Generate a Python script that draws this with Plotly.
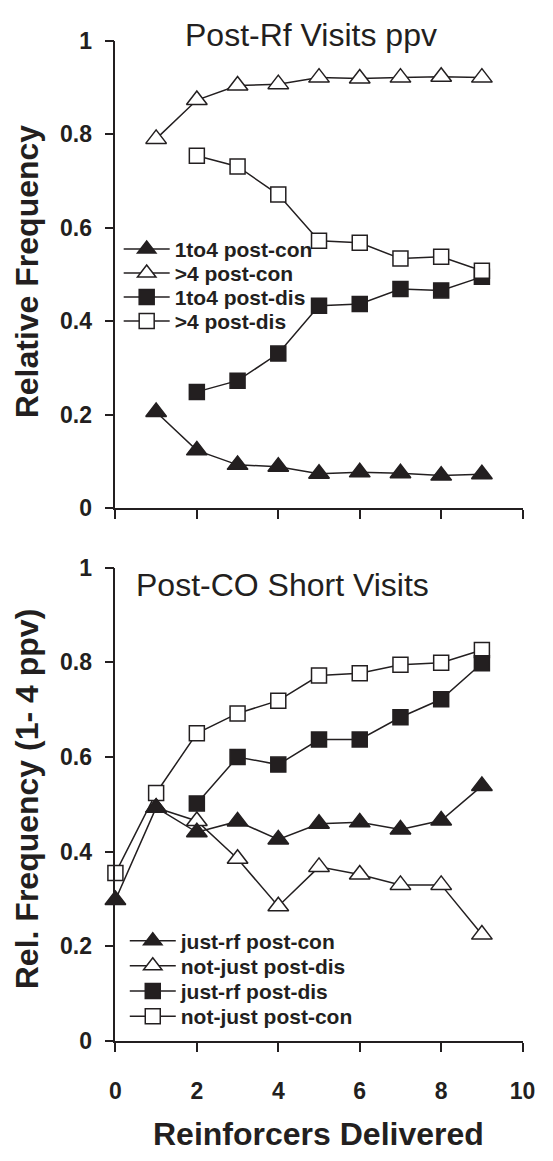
import plotly.graph_objects as go

# ---- data -------------------------------------------------------------
# Top panel: post-reinforcer visits (x = reinforcers delivered)
top_x_tri = [1, 2, 3, 4, 5, 6, 7, 8, 9]
top_1to4_postcon = [0.206, 0.124, 0.093, 0.089, 0.074, 0.077, 0.075, 0.070, 0.073]
top_gt4_postcon = [0.790, 0.873, 0.904, 0.907, 0.921, 0.919, 0.921, 0.923, 0.921]
top_x_sq = [2, 3, 4, 5, 6, 7, 8, 9]
top_1to4_postdis = [0.249, 0.273, 0.331, 0.433, 0.437, 0.469, 0.466, 0.495]
top_gt4_postdis = [0.754, 0.731, 0.671, 0.572, 0.568, 0.534, 0.538, 0.508]

# Bottom panel: post-changeover short visits
bot_x_full = [0, 1, 2, 3, 4, 5, 6, 7, 8, 9]
bot_justrf_postcon = [0.298, 0.493, 0.441, 0.464, 0.426, 0.459, 0.462, 0.447, 0.466, 0.539]
bot_x_notjust_dis = [1, 2, 3, 4, 5, 6, 7, 8, 9]
bot_notjust_postdis = [0.493, 0.465, 0.385, 0.285, 0.368, 0.352, 0.330, 0.330, 0.225]
bot_x_justrf_dis = [2, 3, 4, 5, 6, 7, 8, 9]
bot_justrf_postdis = [0.502, 0.600, 0.584, 0.637, 0.637, 0.684, 0.722, 0.798]
bot_notjust_postcon = [0.355, 0.524, 0.650, 0.692, 0.719, 0.772, 0.777, 0.795, 0.799, 0.826]

x_ticks = [0, 2, 4, 6, 8, 10]
y_ticks = [0, 0.2, 0.4, 0.6, 0.8, 1]

# ---- styling ----------------------------------------------------------
W, H = 553, 1161
INK = "#231f20"
FONT = "Liberation Sans, Arial, sans-serif"


def fx(p):
    return p / W


def fy(p):
    return 1 - p / H


fig = go.Figure()

# one single-entry legend per series so the entries can be spaced tightly
legend_layout = {}


def add_series(x, y, name, symbol, filled, size, xa, ya, legend_id, lx, ly):
    fig.add_trace(go.Scatter(
        x=x, y=y, mode="lines+markers", name=name,
        line=dict(color=INK, width=1.5),
        marker=dict(symbol=symbol, size=size,
                    color=INK if filled else "white",
                    line=dict(color=INK, width=1.5)),
        xaxis=xa, yaxis=ya, legend=legend_id,
        cliponaxis=False,
    ))
    legend_layout[legend_id] = dict(
        x=fx(lx), y=fy(ly), xanchor="left", yanchor="middle",
        bgcolor="rgba(0,0,0,0)", borderwidth=0, itemwidth=46,
        font=dict(family=FONT, size=21, color=INK, weight="bold"),
        itemclick=False, itemdoubleclick=False,
    )


TRI, SQ = 18, 15
TOP_LX, BOT_LX = 116.7, 123

# top panel
add_series(top_x_tri, top_1to4_postcon, "1to4 post-con", "triangle-up", True, TRI, "x", "y", "legend", TOP_LX, 241.7)
add_series(top_x_tri, top_gt4_postcon, "&gt;4 post-con", "triangle-up", False, TRI, "x", "y", "legend2", TOP_LX, 266.3)
add_series(top_x_sq, top_1to4_postdis, "1to4 post-dis", "square", True, SQ, "x", "y", "legend3", TOP_LX, 290.9)
add_series(top_x_sq, top_gt4_postdis, "&gt;4 post-dis", "square", False, SQ, "x", "y", "legend4", TOP_LX, 315.5)

# bottom panel (open symbols drawn first so filled ones sit on top)
add_series(bot_x_full, bot_notjust_postcon, "not-just post-con", "square", False, SQ, "x2", "y2", "legend8", BOT_LX, 1026.5)
add_series(bot_x_justrf_dis, bot_justrf_postdis, "just-rf post-dis", "square", True, SQ, "x2", "y2", "legend7", BOT_LX, 1000.8)
add_series(bot_x_notjust_dis, bot_notjust_postdis, "not-just post-dis", "triangle-up", False, TRI, "x2", "y2", "legend6", BOT_LX, 975.0)
add_series(bot_x_full, bot_justrf_postcon, "just-rf post-con", "triangle-up", True, TRI, "x2", "y2", "legend5", BOT_LX, 949.4)

x_dom = [fx(113.3), fx(535)]
axis_common = dict(
    showline=True, linecolor=INK, linewidth=1.5,
    ticks="outside", ticklen=9, tickwidth=1.5, tickcolor=INK,
    showgrid=False, zeroline=False,
    tickfont=dict(family=FONT, size=23, color=INK, weight="bold"),
)

fig.update_layout(
    width=W, height=H,
    margin=dict(l=0, r=0, t=0, b=0),
    paper_bgcolor="white", plot_bgcolor="white",
    font=dict(family=FONT, color=INK),
    xaxis=dict(domain=x_dom, range=[0, 10], anchor="y", tickvals=x_ticks,
               showticklabels=False, **axis_common),
    yaxis=dict(domain=[fy(506.7), fy(28.3)], range=[0, 1], anchor="x",
               tickvals=y_ticks, ticklabelstandoff=8, **axis_common),
    xaxis2=dict(domain=x_dom, range=[0, 10], anchor="y2", tickvals=x_ticks,
                ticklabelstandoff=20, **axis_common),
    yaxis2=dict(domain=[fy(1051.7), fy(567.3)], range=[0, 1], anchor="x2",
                tickvals=y_ticks, ticklabelstandoff=8, **axis_common),
    showlegend=True,
    **legend_layout,
)

annotations = [
    dict(text="Post-Rf Visits ppv", x=fx(315.8), y=fy(22.5), xanchor="center", yanchor="middle",
         font=dict(family=FONT, size=32, color=INK)),
    dict(text="Post-CO Short Visits", x=fx(133), y=fy(585), xanchor="left", yanchor="middle",
         font=dict(family=FONT, size=32, color=INK)),
    dict(text="Relative Frequency", x=fx(22), y=fy(264), textangle=-90,
         xanchor="center", yanchor="middle",
         font=dict(family=FONT, size=32, color=INK, weight="bold")),
    dict(text="Rel. Frequency (1- 4 ppv)", x=fx(22), y=fy(804), textangle=-90,
         xanchor="center", yanchor="middle",
         font=dict(family=FONT, size=32, color=INK, weight="bold")),
    dict(text="Reinforcers Delivered", x=fx(323.5), y=fy(1147), xanchor="center", yanchor="middle",
         font=dict(family=FONT, size=32, color=INK, weight="bold")),
]
for a in annotations:
    a.update(xref="paper", yref="paper", showarrow=False)
fig.update_layout(annotations=annotations)

fig.write_html("out.html")
